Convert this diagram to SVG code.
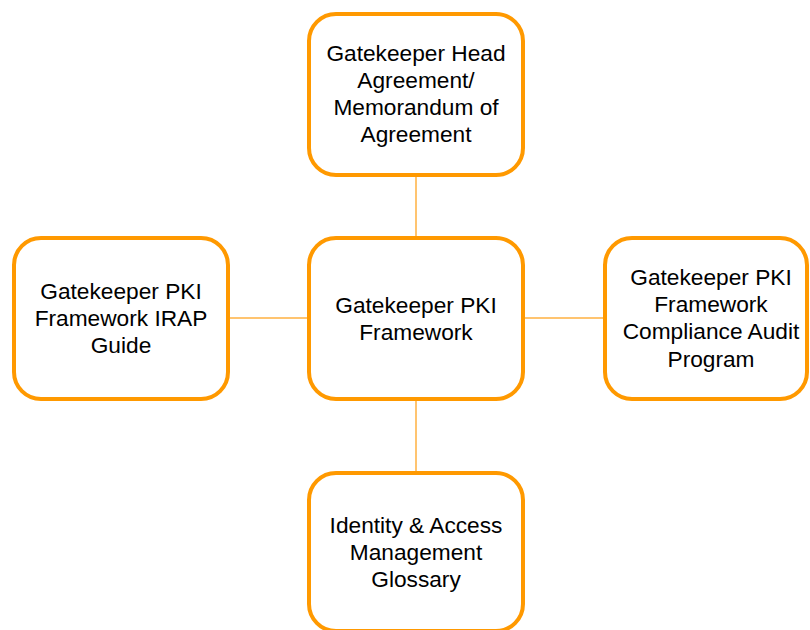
<svg xmlns="http://www.w3.org/2000/svg" width="810" height="630" viewBox="0 0 810 630">
<style>
.box{fill:#fff;stroke:#FF9900;stroke-width:4}
.t{font-family:"Liberation Sans",Arial,sans-serif;font-size:22.7px;fill:#000;text-anchor:middle}
.c{stroke:#FFB040;stroke-width:1.5;fill:none}
</style>
<rect width="810" height="630" fill="#fff"/>
<g id="connectors">
<line class="c" x1="416" y1="175" x2="416" y2="238"/>
<line class="c" x1="416" y1="399" x2="416" y2="473"/>
<line class="c" x1="228" y1="318" x2="309" y2="318"/>
<line class="c" x1="523" y1="318" x2="605" y2="318"/>
</g>
<g id="top">
<rect class="box" x="309" y="14" width="214" height="161" rx="27"/>
<text class="t" x="416" y="61">Gatekeeper Head</text>
<text class="t" x="416" y="88">Agreement/</text>
<text class="t" x="416" y="115">Memorandum of</text>
<text class="t" x="416" y="142">Agreement</text>
</g>
<g id="center">
<rect class="box" x="309" y="238" width="214" height="161" rx="27"/>
<text class="t" x="416" y="313">Gatekeeper PKI</text>
<text class="t" x="416" y="340">Framework</text>
</g>
<g id="left">
<rect class="box" x="14" y="238" width="214" height="161" rx="27"/>
<text class="t" x="121" y="299">Gatekeeper PKI</text>
<text class="t" x="121" y="326">Framework IRAP</text>
<text class="t" x="121" y="353">Guide</text>
</g>
<g id="right">
<rect class="box" x="605" y="238" width="202" height="161" rx="27"/>
<text class="t" x="711" y="285">Gatekeeper PKI</text>
<text class="t" x="711" y="312">Framework</text>
<text class="t" x="711" y="339">Compliance Audit</text>
<text class="t" x="711" y="367">Program</text>
</g>
<g id="bottom">
<rect class="box" x="309" y="473" width="214" height="158" rx="27"/>
<text class="t" x="416" y="533">Identity &amp; Access</text>
<text class="t" x="416" y="560">Management</text>
<text class="t" x="416" y="587">Glossary</text>
</g>
</svg>
